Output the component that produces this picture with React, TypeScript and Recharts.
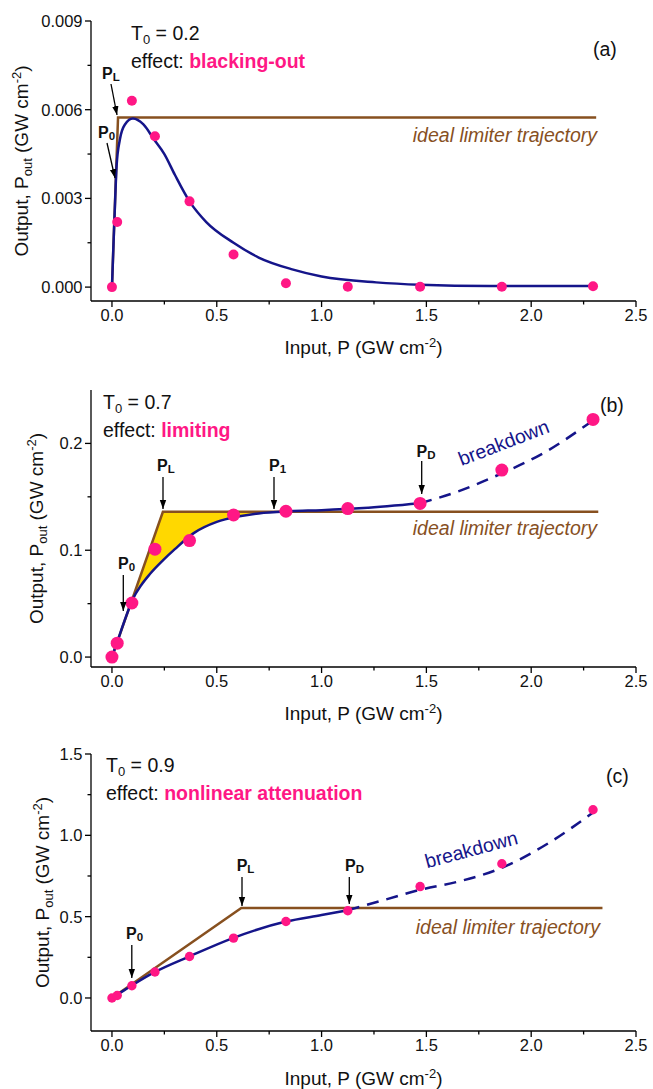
import React from "react";
import { ComposedChart, Line, Scatter, Area, XAxis, YAxis } from "recharts";

const FONT = "'Liberation Sans', Arial, Helvetica, sans-serif";
const NAVY = "#15158a";
const BROWN = "#87501f";
const PINK = "#ff1785";
const GOLD = "#ffd800";
const INK = "#111";

// measured input intensities (same pulses for the three samples)
const inputP = [0, 0.025, 0.095, 0.205, 0.37, 0.58, 0.83, 1.125, 1.47, 1.86, 2.295];

// (a) T0 = 0.2
const outA = [0, 0.0022, 0.0063, 0.0051, 0.0029, 0.0011, 0.00013, 0.00001, 0.00001, 0.00001, 0.00003];
const fitAP = [0, 0.008, 0.015, 0.022, 0.038, 0.062, 0.1, 0.15, 0.2, 0.25, 0.3, 0.37, 0.45, 0.58, 0.7, 0.86, 1.0, 1.26, 1.47, 1.8, 2.31];
const fitAV = [0, 0.0016, 0.0029, 0.0041, 0.005, 0.0055, 0.0057, 0.0055, 0.005, 0.0045, 0.0038, 0.0029, 0.0022, 0.0015, 0.001, 0.0006, 0.00036, 0.00016, 0.00008, 0.00004, 0.00004];
const idealAP = [0, 0.029, 2.31];
const idealAV = [0, 0.00574, 0.00574];

// (b) T0 = 0.7
const outB = [0, 0.013, 0.0506, 0.101, 0.109, 0.133, 0.1365, 0.139, 0.1438, 0.175, 0.2225];
const fitBP = [0, 0.03, 0.06, 0.1, 0.14, 0.18, 0.243, 0.3, 0.39, 0.5, 0.6, 0.7, 0.85, 1.0, 1.2, 1.47];
const fitBV = [0, 0.017, 0.034, 0.0545, 0.0675, 0.0775, 0.0905, 0.101, 0.116, 0.1265, 0.1315, 0.1345, 0.1365, 0.1375, 0.1395, 0.144];
const breakBP = [1.47, 1.65, 1.86, 2.05, 2.295];
const breakBV = [0.144, 0.155, 0.172, 0.19, 0.2215];
const idealBP = [0, 0.243, 2.32];
const idealBV = [0, 0.136, 0.136];
const gapBP = [0.1, 0.14, 0.18, 0.243, 0.3, 0.39, 0.5, 0.6, 0.7, 0.8];
const gapBLow = [0.0545, 0.0675, 0.0775, 0.0905, 0.101, 0.116, 0.1265, 0.1315, 0.1345, 0.136];
const gapBHigh = [0.0567, 0.079, 0.102, 0.136, 0.136, 0.136, 0.136, 0.136, 0.136, 0.136];

// (c) T0 = 0.9
const outC = [0, 0.015, 0.075, 0.16, 0.255, 0.368, 0.47, 0.536, 0.685, 0.825, 1.157];
const fitCP = [0, 0.025, 0.095, 0.205, 0.37, 0.58, 0.83, 1.0, 1.125];
const fitCV = [0, 0.02, 0.077, 0.16, 0.256, 0.37, 0.47, 0.51, 0.54];
const breakCP = [1.125, 1.3, 1.47, 1.65, 1.86, 2.08, 2.295];
const breakCV = [0.54, 0.603, 0.665, 0.715, 0.8, 0.95, 1.14];
const idealCP = [0, 0.617, 2.34];
const idealCV = [0, 0.553, 0.553];

// ticks
const xTicks = [0, 0.25, 0.5, 0.75, 1, 1.25, 1.5, 1.75, 2, 2.25, 2.5];
const xMajor = [0, 0.5, 1, 1.5, 2, 2.5];
const yTicksA = [0, 0.0015, 0.003, 0.0045, 0.006, 0.0075, 0.009];
const yMajorA = [0, 0.003, 0.006, 0.009];
const yTicksB = [0, 0.05, 0.1, 0.15, 0.2];
const yMajorB = [0, 0.1, 0.2];
const yTicksC = [0, 0.25, 0.5, 0.75, 1, 1.25, 1.5];
const yMajorC = [0, 0.5, 1, 1.5];

const xy = (ps: number[], vs: number[]) => ps.map((p, i) => ({ p, v: vs[i] }));
const isIn = (list: number[], v: number) => list.some((m) => Math.abs(m - v) < 1e-9);

const makeXTick = (majors: number[]) => (props: any) => {
  const { x, y, payload } = props;
  const major = isIn(majors, payload.value);
  return (
    <g>
      <line x1={x} x2={x} y1={y} y2={y + (major ? 6 : 3.5)} stroke="#000" strokeWidth={1.3} />
      {major && (
        <text x={x} y={y + 20} textAnchor="middle" fontSize={16.5} fontFamily={FONT} fill={INK}>
          {payload.value.toFixed(1)}
        </text>
      )}
    </g>
  );
};

const makeYTick = (majors: number[], digits: number) => (props: any) => {
  const { x, y, payload } = props;
  const major = isIn(majors, payload.value);
  return (
    <g>
      <line x1={x} x2={x - (major ? 6 : 3.5)} y1={y} y2={y} stroke="#000" strokeWidth={1.3} />
      {major && (
        <text x={x - 8.5} y={y + 6} textAnchor="end" fontSize={16.5} fontFamily={FONT} fill={INK}>
          {payload.value.toFixed(digits)}
        </text>
      )}
    </g>
  );
};

const dot = (r: number) => (props: any) => <circle cx={props.cx} cy={props.cy} r={r} fill={PINK} />;

type PanelProps = {
  top: number;
  plotTop: number;
  plotBottom: number;
  yDomain: [number, number];
  yTicks: number[];
  yMajor: number[];
  digits: number;
  data?: any[];
  children: React.ReactNode;
};

const W = 653;
const H = 363;

const Panel: React.FC<PanelProps> = ({ top, plotTop, plotBottom, yDomain, yTicks, yMajor, digits, data, children }) => (
  <div style={{ position: "absolute", left: 0, top, width: W, height: H }}>
    <ComposedChart
      width={W}
      height={H}
      data={data}
      margin={{ top: plotTop - top, right: 17, bottom: 0, left: 0 }}
    >
      <XAxis
        type="number"
        dataKey="p"
        domain={[-0.1, 2.5]}
        ticks={xTicks}
        interval={0}
        allowDataOverflow
        height={top + H - plotBottom}
        axisLine={{ stroke: "#000", strokeWidth: 1.3 }}
        tickLine={false}
        tickSize={0}
        tickMargin={0}
        tick={makeXTick(xMajor)}
      />
      <YAxis
        type="number"
        dataKey="v"
        domain={yDomain}
        ticks={yTicks}
        interval={0}
        allowDataOverflow
        width={91}
        axisLine={{ stroke: "#000", strokeWidth: 1.3 }}
        tickLine={false}
        tickSize={0}
        tickMargin={0}
        tick={makeYTick(yMajor, digits)}
      />
      {children}
    </ComposedChart>
  </div>
);

const PLabel = ({ x, y, sub }: { x: number; y: number; sub: string }) => (
  <text x={x} y={y} fontSize={16} fontWeight="bold" fontFamily={FONT} fill={INK}>
    P<tspan fontSize={11.5} dy={2}>{sub}</tspan>
  </text>
);

const Arrow = ({ x1, y1, x2, y2 }: { x1: number; y1: number; x2: number; y2: number }) => (
  <line x1={x1} y1={y1} x2={x2} y2={y2} stroke="#000" strokeWidth={1.3} markerEnd="url(#ah)" />
);

const XTitle = ({ y }: { y: number }) => (
  <text x={363.5} y={y} textAnchor="middle" fontSize={19} fontFamily={FONT} fill={INK}>
    Input, P (GW cm<tspan fontSize={13} dy={-7}>-2</tspan>
    <tspan dy={7}>)</tspan>
  </text>
);

const YTitle = ({ x, y }: { x: number; y: number }) => (
  <text x={x} y={y} transform={`rotate(-90 ${x} ${y})`} textAnchor="middle" fontSize={19} fontFamily={FONT} fill={INK}>
    Output, P<tspan fontSize={13} dy={4}>out</tspan>
    <tspan dy={-4}> (GW cm</tspan>
    <tspan fontSize={13} dy={-7}>-2</tspan>
    <tspan dy={7}>)</tspan>
  </text>
);

const Header = ({ x, y, t0, effect }: { x: number; y: number; t0: string; effect: string }) => (
  <g fontFamily={FONT} fontSize={19.5} fill={INK}>
    <text x={x} y={y}>
      T<tspan fontSize={13} dy={4}>0</tspan>
      <tspan dy={-4}> = {t0}</tspan>
    </text>
    <text x={x} y={y + 28}>
      effect: <tspan fontWeight="bold" fill={PINK}>{effect}</tspan>
    </text>
  </g>
);

const Ideal = ({ x, y }: { x: number; y: number }) => (
  <text x={x} y={y} textAnchor="end" fontStyle="italic" fontSize={19.5} fontFamily={FONT} fill={BROWN}>
    ideal limiter trajectory
  </text>
);

const Breakdown = ({ x, y, a }: { x: number; y: number; a: number }) => (
  <text x={x} y={y} transform={`rotate(${a} ${x} ${y})`} textAnchor="middle" fontSize={19.5} fontFamily={FONT} fill={NAVY}>
    breakdown
  </text>
);

const Tag = ({ x, y, s }: { x: number; y: number; s: string }) => (
  <text x={x} y={y} fontSize={19.5} fontFamily={FONT} fill={INK}>
    {s}
  </text>
);

export default function App() {
  const gapData = gapBP.map((p, i) => ({ p, range: [gapBLow[i], gapBHigh[i]] }));
  return (
    <div style={{ position: "absolute", left: 0, top: 0, width: W, height: 1089, background: "#fff" }}>
      <Panel top={0} plotTop={21} plotBottom={301} yDomain={[-0.00047, 0.009]} yTicks={yTicksA} yMajor={yMajorA} digits={3}>
        {[
          <Line key="ideal" data={xy(idealAP, idealAV)} dataKey="v" type="linear" stroke={BROWN} strokeWidth={2.5} dot={false} isAnimationActive={false} />,
          <Line key="fit" data={xy(fitAP, fitAV)} dataKey="v" type="monotone" stroke={NAVY} strokeWidth={2.5} dot={false} isAnimationActive={false} />,
          <Scatter key="meas" data={xy(inputP, outA)} dataKey="v" shape={dot(5)} isAnimationActive={false} />,
        ]}
      </Panel>
      <Panel top={363} plotTop={390} plotBottom={667} yDomain={[-0.0093, 0.25]} yTicks={yTicksB} yMajor={yMajorB} digits={1} data={gapData}>
        {[
          <Area key="gap" dataKey="range" type="linear" fill={GOLD} fillOpacity={1} stroke="none" isAnimationActive={false} />,
          <Line key="ideal" data={xy(idealBP, idealBV)} dataKey="v" type="linear" stroke={BROWN} strokeWidth={2.5} dot={false} isAnimationActive={false} />,
          <Line key="fit" data={xy(fitBP, fitBV)} dataKey="v" type="monotone" stroke={NAVY} strokeWidth={2.5} dot={false} isAnimationActive={false} />,
          <Line key="brk" data={xy(breakBP, breakBV)} dataKey="v" type="monotone" stroke={NAVY} strokeWidth={2.5} strokeDasharray="12 8" dot={false} isAnimationActive={false} />,
          <Scatter key="meas" data={xy(inputP, outB)} dataKey="v" shape={dot(6.5)} isAnimationActive={false} />,
        ]}
      </Panel>
      <Panel top={726} plotTop={754} plotBottom={1031} yDomain={[-0.203, 1.5]} yTicks={yTicksC} yMajor={yMajorC} digits={1}>
        {[
          <Line key="ideal" data={xy(idealCP, idealCV)} dataKey="v" type="linear" stroke={BROWN} strokeWidth={2.5} dot={false} isAnimationActive={false} />,
          <Line key="fit" data={xy(fitCP, fitCV)} dataKey="v" type="monotone" stroke={NAVY} strokeWidth={2.5} dot={false} isAnimationActive={false} />,
          <Line key="brk" data={xy(breakCP, breakCV)} dataKey="v" type="monotone" stroke={NAVY} strokeWidth={2.5} strokeDasharray="12 8" dot={false} isAnimationActive={false} />,
          <Scatter key="meas" data={xy(inputP, outC)} dataKey="v" shape={dot(4.7)} isAnimationActive={false} />,
        ]}
      </Panel>

      <svg width={W} height={1089} style={{ position: "absolute", left: 0, top: 0, pointerEvents: "none" }}>
        <defs>
          <marker id="ah" markerWidth={9} markerHeight={8} refX={9} refY={4} orient="auto" markerUnits="userSpaceOnUse">
            <path d="M0,0.8 L9,4 L0,7.2 z" fill="#000" />
          </marker>
        </defs>

        {/* (a) */}
        <Header x={131} y={39.5} t0="0.2" effect="blacking-out" />
        <Tag x={593} y={56} s="(a)" />
        <Ideal x={597} y={141.5} />
        <PLabel x={102} y={79} sub="L" />
        <Arrow x1={111} y1={84} x2={117} y2={115} />
        <PLabel x={98} y={138} sub="0" />
        <Arrow x1={107} y1={143} x2={115} y2={178} />
        <XTitle y={353.5} />
        <YTitle x={28} y={161} />

        {/* (b) */}
        <Header x={103} y={409} t0="0.7" effect="limiting" />
        <Tag x={600} y={412} s="(b)" />
        <Ideal x={597} y={535} />
        <Breakdown x={506} y={449} a={-21} />
        <PLabel x={118} y={569} sub="0" />
        <Arrow x1={123.3} y1={575} x2={123.3} y2={611} />
        <PLabel x={157} y={471} sub="L" />
        <Arrow x1={163} y1={477} x2={163} y2={509} />
        <PLabel x={269} y={471} sub="1" />
        <Arrow x1={274} y1={477} x2={274} y2={509} />
        <PLabel x={416.5} y={456.5} sub="D" />
        <Arrow x1={421.7} y1={461} x2={421.7} y2={494} />
        <XTitle y={720} />
        <YTitle x={43} y={528.5} />

        {/* (c) */}
        <Header x={106} y={772} t0="0.9" effect="nonlinear attenuation" />
        <Tag x={606} y={783} s="(c)" />
        <Ideal x={600} y={934} />
        <Breakdown x={473} y={856} a={-15} />
        <PLabel x={126} y={939} sub="0" />
        <Arrow x1={131.8} y1={945} x2={131.8} y2={978} />
        <PLabel x={236.7} y={871} sub="L" />
        <Arrow x1={242} y1={877} x2={242} y2={906} />
        <PLabel x={345} y={871} sub="D" />
        <Arrow x1={349.3} y1={877} x2={349.3} y2={904} />
        <XTitle y={1085} />
        <YTitle x={49} y={892.5} />
      </svg>
    </div>
  );
}
